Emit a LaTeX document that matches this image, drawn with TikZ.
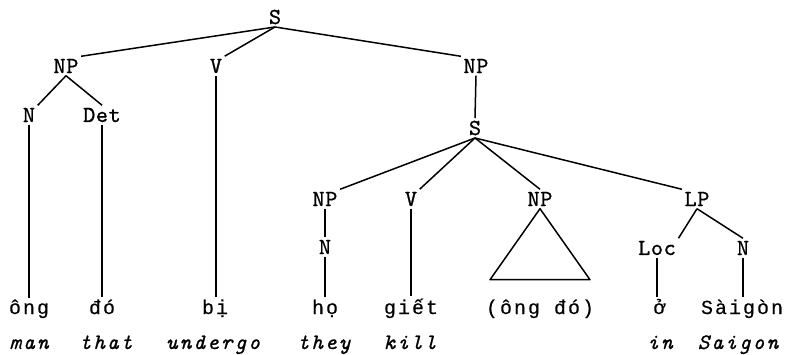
\documentclass[tikz,border=0pt]{standalone}
\usepackage{fontspec}
\newfontfamily\catfont[Extension=.otf, FakeBold=0.9, LetterSpace=3]{lmmono10-regular}
\newfontfamily\glossfont[Extension=.otf, FakeBold=0.9, LetterSpace=10]{lmmono10-italic}
\newfontfamily\wordfont[FakeBold=0.2, LetterSpace=10]{Liberation Mono}
\usetikzlibrary{calc}

\tikzset{
  cat/.style={font=\catfont\fontsize{23}{23}\selectfont, inner sep=2.5pt},
  word/.style={font=\wordfont\fontsize{20}{20}\selectfont, anchor=base, inner sep=2pt},
  gloss/.style={font=\glossfont\fontsize{22}{22}\selectfont, anchor=base, inner sep=0pt},
  branch/.style={line width=1.5pt}
}

\begin{document}
\begin{tikzpicture}[x=1pt, y=-1pt]
  \useasboundingbox (0,0) rectangle (792,355);

  % Kategorije
  \node[cat] (s)   at (275,17)  {S};
  \node[cat] (np1) at (66,66)   {NP};
  \node[cat] (v1)  at (216,66)  {V};
  \node[cat] (np2) at (476,66)  {NP};
  \node[cat] (n1)  at (29,115)  {N};
  \node[cat] (det) at (102,115) {Det};
  \node[cat] (s2)  at (475,128) {S};
  \node[cat] (np3) at (325,199) {NP};
  \node[cat] (v2)  at (411,199) {V};
  \node[cat] (np4) at (540,199) {NP};
  \node[cat] (lp)  at (697,199) {LP};
  \node[cat] (n2)  at (325,247) {N};
  \node[cat] (loc) at (657,248) {Loc};
  \node[cat] (n3)  at (743,248) {N};

  % Rijeci
  \def\wy{314}
  \node[word] (ong)    at (29,\wy)  {ông};
  \node[word] (do)     at (102,\wy) {đó};
  \node[word] (bi)     at (215,\wy) {bị};
  \node[word] (ho)     at (325,\wy) {họ};
  \node[word] (giet)   at (411,\wy) {giết};
  \node[word] (ongdo)  at (540,\wy) {(ông đó)};
  \node[word] (o)      at (659,\wy) {ở};
  \node[word] (saigon) at (742,\wy) {Sàigòn};

  % Prijevod
  \def\gy{349}
  \node[gloss] (man)     at (29,\gy)  {man};
  \node[gloss] (that)    at (106,\gy) {that};
  \node[gloss] (undergo) at (213,\gy) {undergo};
  \node[gloss] (they)    at (324,\gy) {they};
  \node[gloss] (kill)    at (410,\gy) {kill};
  \node[gloss] (in)      at (660,\gy) {in};
  \node[gloss] (saigong) at (738,\gy) {Saigon};

  % Grane gornjeg S
  \draw[branch] (s.south) -- (np1.north east);
  \draw[branch] (s.south) -- (v1.north east);
  \draw[branch] (s.south) -- (np2.north west);
  \draw[branch] (np1.south) -- (n1.north east);
  \draw[branch] (np1.south) -- (det.north);
  \draw[branch] (n1.south) -- (n1.south |- ong.north);
  \draw[branch] (det.south) -- (det.south |- do.north);
  \draw[branch] (v1.south) -- (v1.south |- bi.north);
  \draw[branch] (np2.south) -- (s2.north);

  % Relativna recenica
  \draw[branch] (s2.south) -- (np3.north east);
  \draw[branch] (s2.south) -- (v2.north east);
  \draw[branch] (s2.south) -- (np4.north);
  \draw[branch] (s2.south) -- (lp.north west);
  \draw[branch] (np3.south) -- (n2.north);
  \draw[branch] (n2.south) -- (n2.south |- ho.north);
  \draw[branch] (v2.south) -- (v2.south |- giet.north);
  \draw[branch] (lp.south) -- (loc.north east);
  \draw[branch] (lp.south) -- (n3.north);
  \draw[branch] (loc.south) -- (loc.south |- o.north);
  \draw[branch] (n3.south) -- (n3.south |- saigon.north);

  % Trokut ispod NP
  \coordinate (apex) at (np4.south);
  \draw[branch, line join=round] (apex) -- ($(apex)+(-50,71)$) -- ($(apex)+(50,71)$) -- cycle;
\end{tikzpicture}
\end{document}
